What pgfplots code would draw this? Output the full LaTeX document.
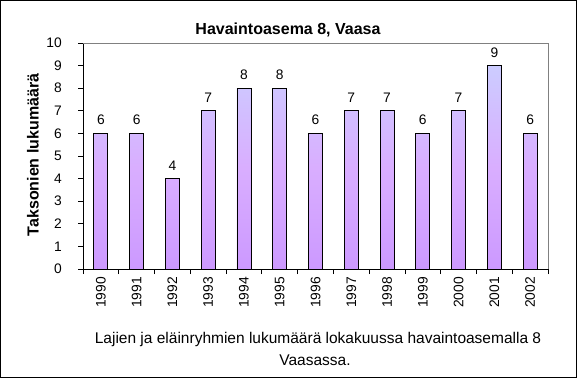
\documentclass[border=0pt]{standalone}
\usepackage{fontspec}
\setmainfont{Liberation Sans}
\usepackage{pgfplots}
\pgfplotsset{compat=1.18}
\definecolor{bartop}{HTML}{CCCCFF}
\definecolor{barbot}{HTML}{CC99FF}
\definecolor{barmid}{HTML}{D9AEFF}
\begin{document}
\begin{tikzpicture}
\draw[black, line width=1pt] (0.5pt,0.5pt) rectangle (576.5pt,377.5pt);
\begin{axis}[
  at={(83pt,109pt)}, anchor=south west,
  scale only axis, width=465pt, height=226pt,
  xmin=-0.5, xmax=12.5, ymin=0, ymax=10,
  axis lines*=left,
  axis line style={black, line width=0.8pt, -},
  tick align=outside,
  major tick length=5pt,
  tick style={black, line width=0.8pt},
  ytick={0,1,...,10},
  xtick={-0.5,0.5,...,12.5},
  xticklabels={},
  extra x ticks={0,1,...,12},
  extra x tick labels={1990,1991,1992,1993,1994,1995,1996,1997,1998,1999,2000,2001,2002},
  extra x tick style={major tick length=0pt,
     xticklabel style={rotate=90, anchor=east, inner sep=0pt, yshift=0pt}},
  xticklabel style={yshift=-8pt},
  /pgf/number format/assume math mode=true,
  tick label style={font=\fontsize{13.8}{16}\selectfont},
  yticklabel style={anchor=east, inner sep=0pt, xshift=-16pt},
  nodes near coords,
  every node near coord/.append style={anchor=south, inner sep=0pt, yshift=8pt, font=\fontsize{13.8}{16}\selectfont},
  clip=false,
]
\addplot[ybar, bar width=14pt, draw=black, line width=0.8pt,
  top color=bartop, bottom color=barbot, middle color=barmid]
  coordinates {(0,6) (1,6) (2,4) (3,7) (4,8) (5,8) (6,6) (7,7) (8,7) (9,6) (10,7) (11,9) (12,6)};
\draw[gray, line width=0.8pt] (rel axis cs:0,1) -- (rel axis cs:1,1) -- (rel axis cs:1,0);
\end{axis}
\node[anchor=base, font=\bfseries\fontsize{16}{19}\selectfont] at (288pt,343pt) {Havaintoasema 8, Vaasa};
\node[rotate=90, font=\bfseries\fontsize{16}{19}\selectfont] at (33pt,223pt) {Taksonien lukumäärä};
\node[anchor=base, font=\fontsize{15.5}{18}\selectfont] at (318pt,35pt) {Lajien ja eläinryhmien lukumäärä lokakuussa havaintoasemalla 8};
\node[anchor=base, font=\fontsize{15.5}{18}\selectfont] at (315pt,13pt) {Vaasassa.};
\end{tikzpicture}
\end{document}
